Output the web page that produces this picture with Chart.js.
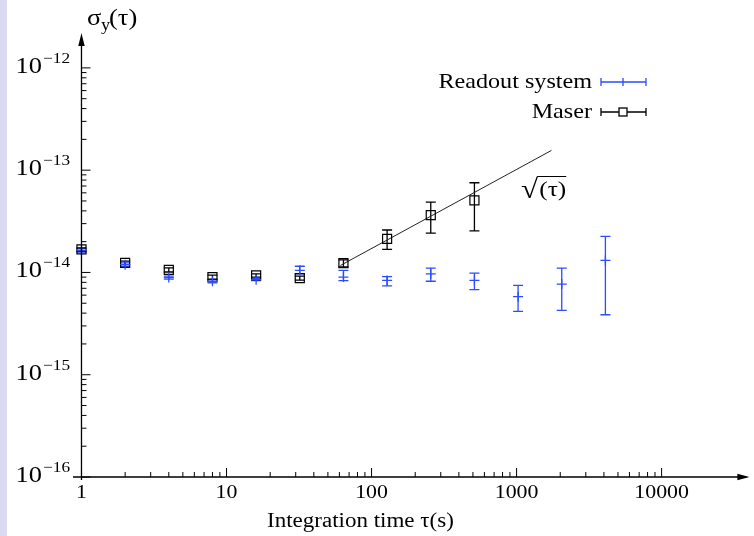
<!DOCTYPE html>
<html>
<head>
<meta charset="utf-8">
<script src="https://cdn.jsdelivr.net/npm/chart.js@4.4.0/dist/chart.umd.min.js"></script>
<style>
  html, body { margin: 0; padding: 0; background: #fff; }
  #wrap { position: relative; width: 754px; height: 536px; }
  #strip { position: absolute; left: 0; top: 0; width: 7px; height: 536px; background: #d9d9f1; }
  #chart { position: absolute; left: 0; top: 0; }
</style>
</head>
<body>
<div id="wrap"><div id="strip"></div><canvas id="chart" width="754" height="536"></canvas></div>
<script>
// Integration times (s)
const tau = [1, 2, 4, 8, 16, 32, 64, 128, 256, 512, 1024, 2048, 4096];

// Readout system Allan deviation + error bar ends
const readout     = [1.65e-14, 1.19e-14, 0.89e-14, 0.82e-14, 0.85e-14, 1.05e-14, 0.90e-14, 0.835e-14, 0.97e-14, 0.835e-14, 0.58e-14, 0.77e-14, 1.31e-14];
const readoutLow  = [1.58e-14, 1.14e-14, 0.86e-14, 0.79e-14, 0.83e-14, 0.97e-14, 0.83e-14, 0.74e-14, 0.82e-14, 0.68e-14, 0.416e-14, 0.425e-14, 0.386e-14];
const readoutHigh = [1.72e-14, 1.24e-14, 0.92e-14, 0.85e-14, 0.87e-14, 1.15e-14, 1.05e-14, 0.91e-14, 1.10e-14, 0.985e-14, 0.746e-14, 1.10e-14, 2.25e-14];

// Maser (only up to 512 s)
const maserTau  = [1, 2, 4, 8, 16, 32, 64, 128, 256, 512];
const maser     = [1.68e-14, 1.24e-14, 1.06e-14, 0.90e-14, 0.935e-14, 0.88e-14, 1.23e-14, 2.13e-14, 3.63e-14, 5.06e-14];
const maserLow  = [1.62e-14, 1.19e-14, 1.01e-14, 0.86e-14, 0.90e-14, 0.84e-14, 1.13e-14, 1.68e-14, 2.42e-14, 2.55e-14];
const maserHigh = [1.74e-14, 1.29e-14, 1.11e-14, 0.94e-14, 0.97e-14, 0.92e-14, 1.33e-14, 2.60e-14, 4.87e-14, 7.53e-14];

// sqrt(tau) guide line end points
const fitTau = [61, 1740];
const fitVal = [1.17e-14, 1.56e-13];

// axis ticks
const xTicks = [1, 10, 100, 1000, 10000];
const yTicks = [-16, -15, -14, -13, -12];

const BLUE = '#2b4cff';
const SX = 1.15; // the reference text is a bit wide

function txt(ctx, s, x, y, size, align) {
    ctx.save();
    ctx.font = size + 'px "Liberation Serif", "Times New Roman", serif';
    ctx.translate(x, y);
    ctx.scale(SX, 1);
    ctx.textAlign = align || 'left';
    ctx.textBaseline = 'alphabetic';
    ctx.fillText(s, 0, 0);
    ctx.restore();
}
function txtMetrics(ctx, s, size) {
    ctx.save();
    ctx.font = size + 'px "Liberation Serif", "Times New Roman", serif';
    const m = ctx.measureText(s);
    ctx.restore();
    return { w: m.width * SX, asc: m.actualBoundingBoxAscent, right: m.actualBoundingBoxRight * SX };
}

// vertical error bars with caps
const errorBars = {
    id: 'errorBars',
    beforeDatasetsDraw(chart) {
        const { ctx, scales: { x, y } } = chart;
        chart.data.datasets.forEach(ds => {
            if (!ds.errLow) return;
            ctx.save();
            ctx.strokeStyle = ds.borderColor;
            ctx.lineWidth = 1.3;
            ds.data.forEach((p, i) => {
                const px = x.getPixelForValue(p.x);
                const lo = y.getPixelForValue(ds.errLow[i]);
                const hi = y.getPixelForValue(ds.errHigh[i]);
                ctx.beginPath();
                ctx.moveTo(px, lo); ctx.lineTo(px, hi);
                ctx.moveTo(px - 5, lo); ctx.lineTo(px + 5, lo);
                ctx.moveTo(px - 5, hi); ctx.lineTo(px + 5, hi);
                ctx.stroke();
            });
            ctx.restore();
        });
    }
};

// gnuplot-like axes: lines with arrows, inward ticks, superscript labels
const axesPlugin = {
    id: 'axesPlugin',
    afterDraw(chart) {
        const { ctx, chartArea: a, scales: { x, y } } = chart;
        const x0 = x.getPixelForValue(1);
        const yb = a.bottom;
        ctx.save();
        ctx.strokeStyle = '#000';
        ctx.fillStyle = '#000';
        ctx.lineWidth = 1.3;

        // axis lines
        ctx.beginPath();
        ctx.moveTo(a.left, yb); ctx.lineTo(a.right, yb);
        ctx.moveTo(x0, yb + 3); ctx.lineTo(x0, a.top + 8);
        ctx.stroke();
        // arrows
        ctx.beginPath();
        ctx.moveTo(x0, a.top - 3); ctx.lineTo(x0 - 3.2, a.top + 10); ctx.lineTo(x0 + 3.2, a.top + 10); ctx.closePath();
        ctx.fill();
        ctx.beginPath();
        ctx.moveTo(a.right + 3, yb); ctx.lineTo(a.right - 9, yb - 3.2); ctx.lineTo(a.right - 9, yb + 3.2); ctx.closePath();
        ctx.fill();

        // x ticks
        ctx.lineWidth = 1;
        ctx.beginPath();
        xTicks.forEach(dec => {
            for (let m = 1; m <= 9; m++) {
                const v = dec * m;
                if (dec === 10000 && m > 1) break;
                const px = x.getPixelForValue(v);
                const len = m === 1 ? 9 : 5;
                ctx.moveTo(px, yb); ctx.lineTo(px, yb - len);
            }
        });
        // y ticks
        yTicks.forEach(e => {
            for (let m = 1; m <= 9; m++) {
                if (e === -12 && m > 1) break;
                const py = y.getPixelForValue(m * Math.pow(10, e));
                const len = m === 1 ? 9 : 5;
                ctx.moveTo(x0, py); ctx.lineTo(x0 + len, py);
            }
        });
        ctx.stroke();

        // tick labels
        xTicks.forEach(v => txt(ctx, String(v), x.getPixelForValue(v), yb + 21, 19, 'center'));
        yTicks.forEach(e => {
            const py = y.getPixelForValue(Math.pow(10, e));
            const ex = '\u2212' + (-e);
            const ew = txtMetrics(ctx, ex, 15).w;
            txt(ctx, ex, 70, py - 5, 15, 'right');
            txt(ctx, '10', 70 - ew - 1, py + 5, 23, 'right');
        });

        // axis titles
        txt(ctx, 'Integration time \u03c4(s)', 267, 527, 20, 'left');
        txt(ctx, '\u03c3', 87, 25, 23, 'left');
        txt(ctx, 'y', 101, 30, 16, 'left');
        txt(ctx, '(\u03c4)', 109, 25, 23, 'left');

        // sqrt label: radical sign, then (tau) under an overline
        const rm = txtMetrics(ctx, '\u221a', 27);
        txt(ctx, '\u221a', 521, 198, 27, 'left');
        const topY = 198 - rm.asc + 0.5;
        const px0 = 521 + rm.right;
        txt(ctx, '(\u03c4)', px0 + 1, 196, 22, 'left');
        const pw = txtMetrics(ctx, '(\u03c4)', 22).w;
        ctx.beginPath();
        ctx.moveTo(px0 - 1, topY); ctx.lineTo(px0 + 1 + pw, topY);
        ctx.stroke();

        // legend
        const items = [
            { label: chart.data.datasets[0].label, color: BLUE, yy: 82, base: 88, square: false },
            { label: chart.data.datasets[1].label, color: '#000', yy: 112, base: 118, square: true }
        ];
        items.forEach(it => {
            txt(ctx, it.label, 592, it.base, 21, 'right');
            ctx.strokeStyle = it.color;
            ctx.lineWidth = 1.3;
            ctx.beginPath();
            ctx.moveTo(601, it.yy); ctx.lineTo(646, it.yy);
            ctx.moveTo(601, it.yy - 4); ctx.lineTo(601, it.yy + 4);
            ctx.moveTo(646, it.yy - 4); ctx.lineTo(646, it.yy + 4);
            if (!it.square) { ctx.moveTo(623, it.yy - 4); ctx.lineTo(623, it.yy + 4); }
            ctx.stroke();
            if (it.square) {
                ctx.fillStyle = '#fff';
                ctx.fillRect(619, it.yy - 4, 8, 8);
                ctx.strokeRect(619, it.yy - 4, 8, 8);
                ctx.fillStyle = '#000';
            }
        });
        ctx.restore();
    }
};

new Chart(document.getElementById('chart'), {
    type: 'scatter',
    data: {
        datasets: [
            {
                label: 'Readout system',
                data: tau.map((t, i) => ({ x: t, y: readout[i] })),
                errLow: readoutLow,
                errHigh: readoutHigh,
                borderColor: BLUE,
                backgroundColor: BLUE,
                pointStyle: 'cross',
                pointRadius: 5,
                pointBorderWidth: 1.3
            },
            {
                label: 'Maser',
                data: maserTau.map((t, i) => ({ x: t, y: maser[i] })),
                errLow: maserLow,
                errHigh: maserHigh,
                borderColor: '#000',
                backgroundColor: 'rgba(0,0,0,0)',
                pointStyle: 'rect',
                pointRadius: 6.4,
                pointBorderWidth: 1.2
            },
            {
                label: 'sqrt',
                data: fitTau.map((t, i) => ({ x: t, y: fitVal[i] })),
                showLine: true,
                borderColor: '#222',
                borderWidth: 1,
                pointRadius: 0
            }
        ]
    },
    options: {
        responsive: false,
        animation: false,
        devicePixelRatio: 1,
        layout: { padding: { left: 73, right: 4, top: 36, bottom: 59 } },
        plugins: { legend: { display: false }, tooltip: { enabled: false } },
        scales: {
            x: { type: 'logarithmic', min: 0.874, max: 38417, display: false },
            y: { type: 'logarithmic', min: 1e-16, max: 2.05e-12, display: false }
        }
    },
    plugins: [errorBars, axesPlugin]
});
</script>
</body>
</html>
